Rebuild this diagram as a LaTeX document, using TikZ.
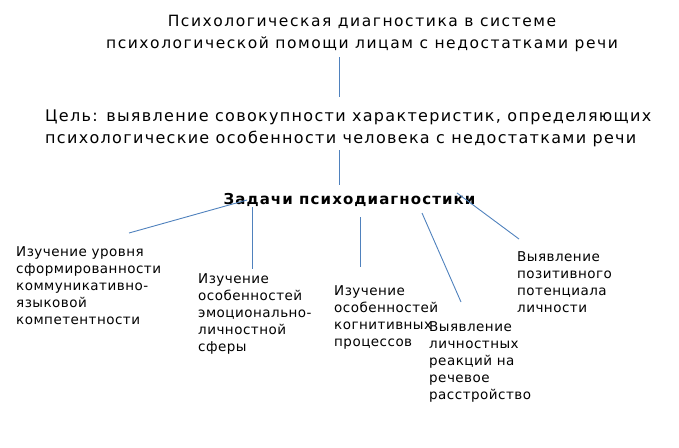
\documentclass[tikz,border=0pt]{standalone}
\usepackage{fontspec}
\setmainfont{DejaVu Sans}
\newfontfamily\titlefont[LetterSpace=10]{DejaVu Sans}
\newfontfamily\goalfont[LetterSpace=8.2]{DejaVu Sans}
\newfontfamily\taskfont[LetterSpace=7.3]{DejaVu Sans}
\newfontfamily\itemfont[LetterSpace=3.5]{DejaVu Sans}
\begin{document}
\begin{tikzpicture}[x=1pt,y=-1pt,
  conn/.style={draw=lineblue, line width=0.9pt},
  head/.style={font=\titlefont\fontsize{15.5}{22}\selectfont, align=center, inner sep=0pt},
  goal/.style={font=\goalfont\fontsize{16}{22}\selectfont, align=left, inner sep=0pt},
  task/.style={font=\taskfont\bfseries\fontsize{15}{18}\selectfont, inner sep=0pt},
  item/.style={font=\itemfont\fontsize{13.5}{17}\selectfont, align=left, inner sep=0pt, anchor=north west}]
\definecolor{lineblue}{RGB}{79,129,189}
\useasboundingbox (0,0) rectangle (679,447);
\node[head] (title) at (362,33) {Психологическая диагностика в системе\\психологической помощи лицам с недостатками речи};
\node[goal, anchor=west] (goal) at (45,128) {Цель: выявление совокупности характеристик, определяющих\\психологические особенности человека с недостатками речи};
\node[task] (task) at (349.5,200) {Задачи психодиагностики};
\node[item] (i1) at (16,246.7) {Изучение уровня\\сформированности\\коммуникативно-\\языковой\\компетентности};
\node[item] (i2) at (198,273) {Изучение\\особенностей\\эмоционально-\\личностной\\сферы};
\node[item] (i3) at (334,285) {Изучение\\особенностей\\когнитивных\\процессов};
\node[item] (i4) at (429,321) {Выявление\\личностных\\реакций на\\речевое\\расстройство};
\node[item] (i5) at (517,251) {Выявление\\позитивного\\потенциала\\личности};
\coordinate (t0) at (339,57); \coordinate (g0) at (339,97);
\coordinate (g1) at (339,150); \coordinate (k0) at (339,185);
\coordinate (a1) at (247,200); \coordinate (b1) at (129,233);
\coordinate (a2) at (252,207); \coordinate (b2) at (252,269);
\coordinate (a3) at (360,217); \coordinate (b3) at (360,267);
\coordinate (a4) at (422,213); \coordinate (b4) at (461,302);
\coordinate (a5) at (457,193); \coordinate (b5) at (519,239);
\draw[conn] (t0) -- (g0);
\draw[conn] (g1) -- (k0);
\draw[conn] (a1) -- (b1);
\draw[conn] (a2) -- (b2);
\draw[conn] (a3) -- (b3);
\draw[conn] (a4) -- (b4);
\draw[conn] (a5) -- (b5);
\end{tikzpicture}
\end{document}
